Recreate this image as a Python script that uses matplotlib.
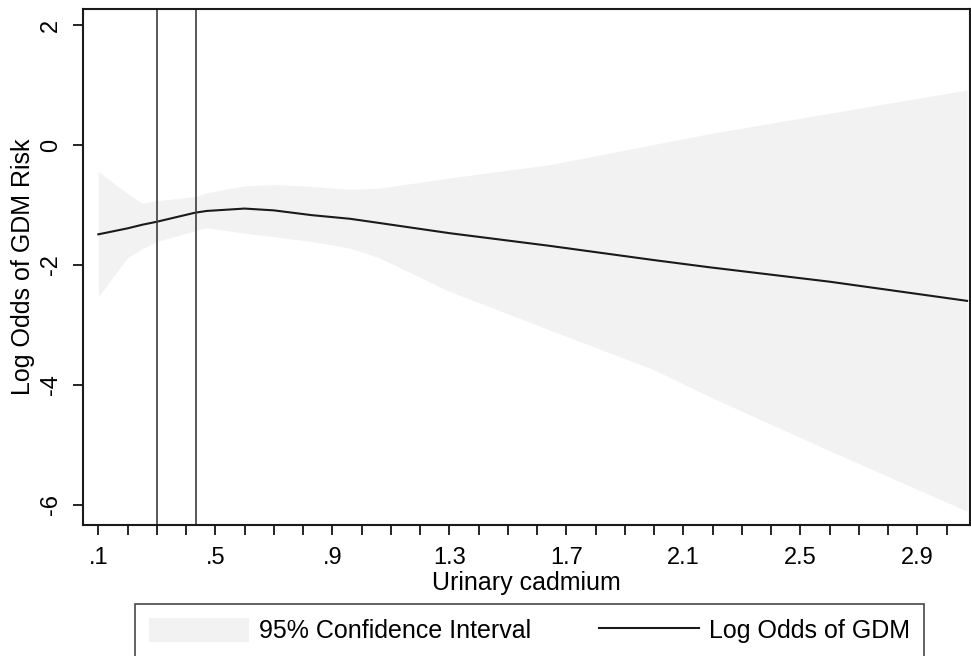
import matplotlib
matplotlib.use('Agg')
import matplotlib.pyplot as plt
from matplotlib.patches import Patch
from matplotlib.lines import Line2D
from matplotlib.ticker import MultipleLocator

plt.rcParams['font.family'] = ['Liberation Sans', 'DejaVu Sans']

# urinary cadmium grid and fitted log odds with 95% CI
cadmium = [0.1, 0.2, 0.25, 0.3, 0.43, 0.47, 0.6, 0.7, 0.83, 0.96, 1.06,
           1.3, 1.64, 2.0, 2.19, 2.6, 3.07]
log_odds = [-1.49, -1.39, -1.33, -1.28, -1.13, -1.10, -1.06, -1.09, -1.17,
            -1.23, -1.30, -1.47, -1.68, -1.92, -2.04, -2.28, -2.60]
ci_upper = [-0.44, -0.81, -0.97, -0.93, -0.86, -0.80, -0.68, -0.66, -0.69,
            -0.74, -0.72, -0.55, -0.33, 0.01, 0.19, 0.53, 0.92]
ci_lower = [-2.53, -1.88, -1.73, -1.61, -1.43, -1.38, -1.47, -1.53, -1.61,
            -1.72, -1.88, -2.44, -3.08, -3.75, -4.20, -5.10, -6.11]

cutpoints = [0.3, 0.434]
xticks = [0.1, 0.5, 0.9, 1.3, 1.7, 2.1, 2.5, 2.9]
xticklabels = ['.1', '.5', '.9', '1.3', '1.7', '2.1', '2.5', '2.9']
yticks = [2, 0, -2, -4, -6]

fig = plt.figure(figsize=(9.71, 6.56), dpi=100)
ax = fig.add_axes([83 / 971, 1 - 525 / 656, (970 - 83) / 971, (525 - 9) / 656])

ax.fill_between(cadmium, ci_lower, ci_upper, color='#f2f2f2', lw=0)
ax.plot(cadmium, log_odds, color='#1a1a1a', lw=1.5)
for c in cutpoints:
    ax.axvline(c, color='#3c3c3c', lw=1.2)

ax.set_xlim(0.0477, 3.08)
ax.set_ylim(-6.34, 2.27)

ax.set_xticks(xticks)
ax.set_xticklabels(xticklabels)
ax.xaxis.set_minor_locator(MultipleLocator(0.1))
ax.set_yticks(yticks)
ax.set_yticklabels([str(v) for v in yticks], rotation=90, va='center')

ax.tick_params(axis='both', which='both', direction='out', width=1.2,
               color='black', labelsize=17)
ax.tick_params(axis='x', which='both', length=7, pad=9)
ax.tick_params(axis='y', which='major', length=7, pad=8)

for s in ax.spines.values():
    s.set_linewidth(1.5)
    s.set_color('#1a1a1a')

ax.set_xlabel('Urinary cadmium', fontsize=18, labelpad=1)
ax.set_ylabel('Log Odds of GDM Risk', fontsize=18, labelpad=4)

handles = [Patch(facecolor='#f2f2f2', edgecolor='none'),
           Line2D([], [], color='#1a1a1a', lw=1.5)]
labels = ['95% Confidence Interval', 'Log Odds of GDM']
fig.legend(handles, labels, loc='upper center',
           bbox_to_anchor=(529.5 / 971, 1 - 604 / 656), ncol=2,
           fontsize=18, frameon=True, fancybox=False, edgecolor='#1a1a1a',
           handlelength=4, handleheight=1.1, handletextpad=0.4,
           columnspacing=2.7, borderpad=0.55, borderaxespad=0)
fig.legends[0].get_frame().set_linewidth(1.2)

fig.savefig('out.png', dpi=100)
